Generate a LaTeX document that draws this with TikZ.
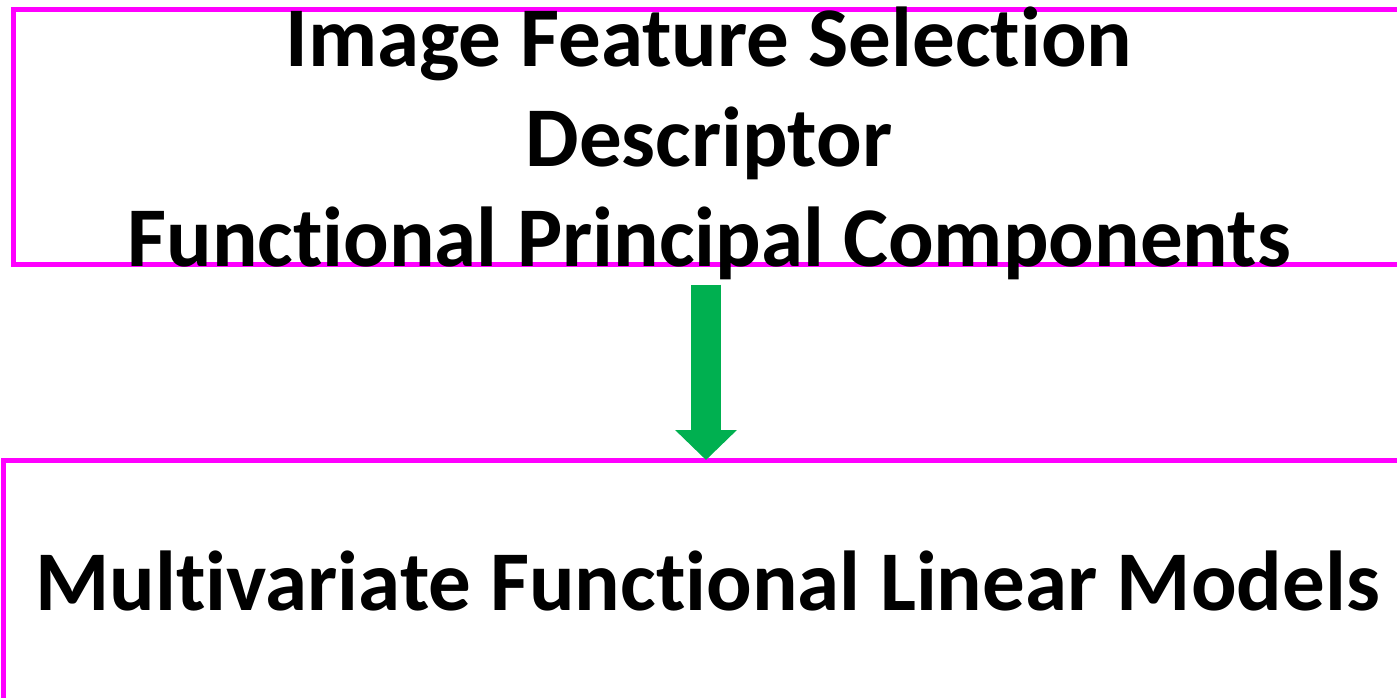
\documentclass[tikz,border=0pt]{standalone}
\usepackage{fontspec}
\setmainfont{Carlito}[Ligatures=NoCommon]
\usetikzlibrary{arrows.meta}
\definecolor{boxpink}{RGB}{255,0,255}
\definecolor{arrowgreen}{RGB}{0,176,80}
\tikzset{
  panel/.style={draw=boxpink, line width=5pt, rectangle, inner sep=0pt},
  bigtext/.style={font=\fontsize{85}{100}\selectfont\bfseries, align=center, inner sep=0pt},
  flowarrow/.style={draw=arrowgreen, line width=29.7pt, -{Triangle[width=60pt, length=30pt]}}
}
\begin{document}
\begin{tikzpicture}[x=1pt, y=-1pt]
      \useasboundingbox (0,0) rectangle (1397,697);
      \clip (0,0) rectangle (1397,697);
      % the two frames, both run past the page edge
      \node[panel, minimum width=1391pt, minimum height=255.5pt] (featbox) at (709,136.75) {};
      \node[panel, minimum width=1408pt, minimum height=245pt] (modelbox) at (707.5,583) {};
      % base of a multi-line node sits on its last line
      \node[bigtext, anchor=base] (feat) at (709,266) %
      {Image Feature Selection\\Descriptor\\Functional Principal Components};
      \node[bigtext, anchor=base] (model) at (707.5,610) %
      {Multivariate Functional Linear Models};
      \draw [flowarrow] ([xshift=-3pt, yshift=-17.5pt]featbox.south) -- %
      ([xshift=-1.5pt, yshift=-2pt]modelbox.north);
    \end{tikzpicture}
\end{document}
